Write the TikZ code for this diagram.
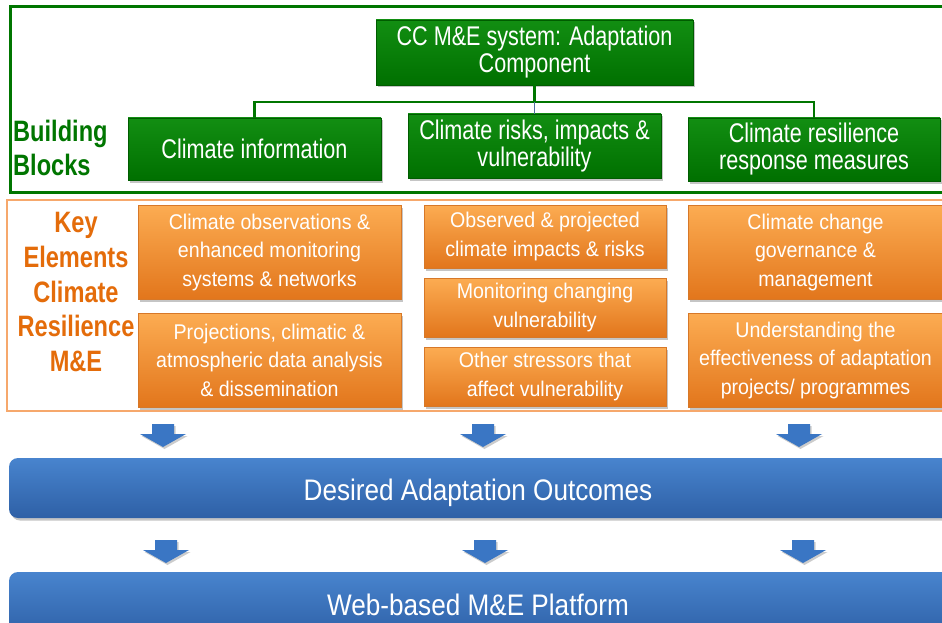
\documentclass[tikz,border=0pt]{standalone}
\usepackage{fontspec}
\setmainfont{Liberation Sans}
\newfontfamily\gfont[FakeStretch=0.80]{Liberation Sans}
\newfontfamily\ofont[FakeStretch=0.92]{Liberation Sans}
\newfontfamily\bfont[FakeStretch=0.88]{Liberation Sans}
\newfontfamily\lfont[FakeStretch=0.80]{Liberation Sans}
\usetikzlibrary{shadows}
\definecolor{gtop}{RGB}{18,142,18}
\definecolor{gbot}{RGB}{0,112,0}
\definecolor{gline}{RGB}{0,118,0}
\definecolor{gedge}{RGB}{0,92,0}
\definecolor{otop}{RGB}{252,172,82}
\definecolor{obot}{RGB}{226,118,28}
\definecolor{oedge}{RGB}{215,120,40}
\definecolor{oframe}{RGB}{246,168,108}
\definecolor{olabel}{RGB}{228,108,10}
\definecolor{btop}{RGB}{72,132,206}
\definecolor{bbot}{RGB}{46,96,166}
\definecolor{barrow}{RGB}{58,118,196}
\tikzset{
  sh/.style={drop shadow={shadow xshift=2pt,shadow yshift=-2.5pt,opacity=0.45}},
  gbox/.style={sh,draw=gedge,line width=0.8pt,top color=gtop,bottom color=gbot,
    text=white,align=center,inner sep=0pt,font=\gfont\fontsize{27}{27}\selectfont},
  obox/.style={sh,draw=oedge,line width=0.6pt,top color=otop,bottom color=obot,
    text=white,align=center,inner sep=0pt,font=\ofont\fontsize{21.3}{28.5}\selectfont},
  bbar/.style={sh,rounded corners=9pt,draw=none,top color=btop,bottom color=bbot,inner sep=0pt},
  btext/.style={text=white,inner sep=0pt,font=\bfont\fontsize{29.7}{33}\selectfont},
  glabel/.style={text=gline,align=left,font=\lfont\bfseries\fontsize{29.5}{34}\selectfont,inner sep=0pt},
  olab/.style={text=olabel,align=center,font=\lfont\bfseries\fontsize{29.5}{34.8}\selectfont,inner sep=0pt},
  conn/.style={draw=gline,line width=2.6pt},
  barr/.pic={\fill[barrow,drop shadow={shadow xshift=1.5pt,shadow yshift=-2pt,opacity=0.4}]
     (-11,0) -- (11,0) -- (11,10) -- (23,10) -- (0,23) -- (-23,10) -- (-11,10) -- cycle;}
}
\begin{document}
\begin{tikzpicture}[x=1pt,y=-1pt]
\useasboundingbox (0,0) rectangle (942,623);
\fill[white] (0,0) rectangle (942,623);
% frames
\draw[gline,line width=3pt] (10,7) rectangle (948,192);
\draw[oframe,line width=2.5pt] (7,200) rectangle (948,411);
% top
\node[gbox,minimum width=317pt,minimum height=65pt] (top) at (534.5,52.5) {CC M\&E system: Adaptation\\Component};
\node[gbox,minimum width=253pt,minimum height=62pt] (b1) at (254.5,149) {Climate information};
\node[gbox,minimum width=253pt,minimum height=64pt] (b2) at (534.5,146) {Climate risks, impacts \&\\vulnerability};
\node[gbox,minimum width=252pt,minimum height=63pt] (b3) at (814,149.5) {Climate resilience\\response measures};
\coordinate (j) at (534.5,102);
\draw[conn] (top.south) -- (j);
\draw[conn] (b1.north) -- (b1.north |- j) -- (b3.north |- j) -- (b3.north);
\draw[draw={rgb,255:red,80;green,110;blue,160},line width=1.6pt] (j) -- (b2.north);
\node[glabel,anchor=west] (bb) at (13,148) {Building\\Blocks};
% key elements
\node[olab] (ke) at (76,292) {Key\\Elements\\Climate\\Resilience\\M\&E};
\node[obox,minimum width=263pt,minimum height=94pt] (o1) at (269.5,252) {Climate observations \&\\enhanced monitoring\\systems \& networks};
\node[obox,minimum width=263pt,minimum height=94pt] (o2) at (269.5,360) {Projections, climatic \&\\atmospheric data analysis\\\& dissemination};
\node[obox,minimum width=242pt,minimum height=63pt] (o3) at (545,236.5) {Observed \& projected\\climate impacts \& risks};
\node[obox,minimum width=242pt,minimum height=59pt] (o4) at (545,307.5) {Monitoring changing\\vulnerability};
\node[obox,minimum width=242pt,minimum height=59pt] (o5) at (545,376.5) {Other stressors that\\affect vulnerability};
\node[obox,minimum width=255pt,minimum height=94pt] (o6) at (815.5,252) {Climate change\\governance \&\\management};
\node[obox,minimum width=255pt,minimum height=94pt] (o7) at (815.5,360) {Understanding the\\effectiveness of adaptation\\projects/ programmes};
% arrows
\pic at (163,424) {barr};
\pic at (483,424) {barr};
\pic at (799,424) {barr};
\node[bbar,minimum width=944pt,minimum height=60pt] (out) at (481,488) {};
\node[btext,anchor=base] (outt) at (478,500.5) {Desired Adaptation Outcomes};
\pic at (166,540) {barr};
\pic at (485,540) {barr};
\pic at (803,540) {barr};
\node[bbar,minimum width=944pt,minimum height=66pt] (web) at (481,605) {};
\node[btext,anchor=base] (webt) at (478,615) {Web-based M\&E Platform};
\end{tikzpicture}
\end{document}
